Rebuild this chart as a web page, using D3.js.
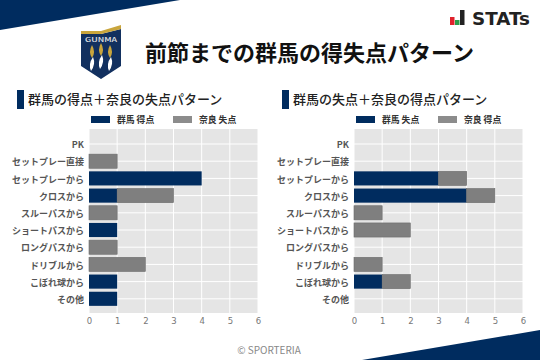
<!DOCTYPE html>
<html>
<head>
<meta charset="utf-8">
<style>
 html, body {margin: 0; padding: 0; background: #fff;}
 svg {display: block;}
 text {font-family: "Noto Sans CJK JP", "Noto Sans", sans-serif;}
</style>
<title>前節までの群馬の得失点パターン</title>
</head>
<body>
<div id="contenedor"></div>
<script src="https://d3js.org/d3.v7.min.js"></script>
<script>
var categorias = ["PK", "セットプレー直接", "セットプレーから", "クロスから", "スルーパスから", "ショートパスから", "ロングパスから", "ドリブルから", "こぼれ球から", "その他"];
var gunmaTokuten = [0, 0, 4, 1, 0, 1, 0, 0, 1, 1];
var naraShitten = [0, 1, 0, 2, 1, 0, 1, 2, 0, 0];
var gunmaShitten = [0, 0, 3, 4, 0, 0, 0, 0, 1, 0];
var naraTokuten = [0, 0, 1, 1, 1, 2, 0, 1, 1, 0];
var ticks = [0, 1, 2, 3, 4, 5, 6];

var azul = "#002c5f", gris = "#7f7f7f";
var svg = d3.select("#contenedor").append("svg").attr("width", 540).attr("height", 360);

// banners
svg.append("path").attr("d", "M0 0H180L0 30Z").attr("fill", azul);
svg.append("path").attr("d", "M540 330V360H362Z").attr("fill", azul);

// escudo
var escudo = svg.append("g");
escudo.append("path").attr("d", "M81 34H101L121 29V66L101 79L81 66Z").attr("fill", "#12305f");
escudo.append("path").attr("d", "M81 31H101L121 25V29L101 34H81Z").attr("fill", "#c9a53c");
escudo.append("text").attr("x", 85).attr("y", 41.500).attr("font-size", 5.500).attr("font-weight", 500).attr("fill", "#e8e8e8")
  .attr("textLength", 32).attr("lengthAdjust", "spacingAndGlyphs").text("GUNMA");
[[92, 45], [101, 43], [110, 45]].forEach(function (f) {
  escudo.append("path").attr("d", "M" + f[0] + " " + f[1] + "q4 7 0 13q-4 -6 0 -13Z").attr("fill", "#c9a53c");
  escudo.append("path").attr("d", "M" + (f[0] + 1) + " " + (f[1] + 12) + "q3 7 -2 14q-3 -7 2 -14Z").attr("fill", "#fff");
});

// logo STATs
var logo = svg.append("g");
logo.append("rect").attr("x", 450).attr("y", 17).attr("width", 4.500).attr("height", 8).attr("fill", "#e0222c");
logo.append("rect").attr("x", 455).attr("y", 20).attr("width", 4.500).attr("height", 5).attr("fill", "#2a9d4a");
logo.append("rect").attr("x", 460).attr("y", 10).attr("width", 4.500).attr("height", 15).attr("fill", "#222");
logo.append("text").attr("x", 472).attr("y", 24.500).attr("font-size", 18).attr("font-weight", 700).attr("fill", "#222")
  .attr("textLength", 58).attr("lengthAdjust", "spacingAndGlyphs").style("font-family", "'DejaVu Sans'").text("STATs");

svg.append("text").attr("x", 145).attr("y", 61).attr("font-size", 22).attr("font-weight", 700).attr("fill", "#111").text("前節までの群馬の得失点パターン");

function panel(x0, titulo, nombre1, nombre2, serie1, serie2) {
  var x = d3.scaleLinear().domain([0, 6]).range([x0, x0 + 169]);
  var y = d3.scaleBand().domain(categorias).range([135.400, 307.400]).paddingInner(0.18).paddingOuter(0.09);
  var g = svg.append("g");

  g.append("rect").attr("x", x0 - 72).attr("y", 90).attr("width", 7).attr("height", 19).attr("fill", azul);
  g.append("text").attr("x", x0 - 61).attr("y", 104).attr("font-size", 13).attr("font-weight", 500).attr("fill", "#222").text(titulo);

  g.append("rect").attr("x", x0 + 2).attr("y", 116).attr("width", 19).attr("height", 7).attr("fill", azul);
  g.append("text").attr("x", x0 + 28).attr("y", 123).attr("font-size", 8.800).attr("font-weight", 700).attr("fill", "#333").text(nombre1);
  g.append("rect").attr("x", x0 + 84).attr("y", 116).attr("width", 19).attr("height", 7).attr("fill", "#8c8c8c");
  g.append("text").attr("x", x0 + 110).attr("y", 123).attr("font-size", 8.800).attr("font-weight", 700).attr("fill", "#333").text(nombre2);

  g.append("rect").attr("x", x0).attr("y", 129).attr("width", 169).attr("height", 184).attr("fill", "#e5e5e5");
  g.selectAll(".gx").data(ticks).enter().append("line")
    .attr("x1", function (d) { return x(d); }).attr("x2", function (d) { return x(d); })
    .attr("y1", 129).attr("y2", 313).attr("stroke", "#fff").attr("stroke-width", 1);
  g.selectAll(".gy").data(categorias).enter().append("line")
    .attr("x1", x0).attr("x2", x0 + 169)
    .attr("y1", function (d) { return y(d) + y.bandwidth() / 2; }).attr("y2", function (d) { return y(d) + y.bandwidth() / 2; })
    .attr("stroke", "#fff").attr("stroke-width", 1);

  g.selectAll(".b1").data(categorias).enter().append("rect")
    .attr("x", x(0)).attr("y", function (d) { return y(d); })
    .attr("width", function (d, i) { return x(serie1[i]) - x(0); })
    .attr("height", y.bandwidth()).attr("fill", azul);
  g.selectAll(".b2").data(categorias).enter().append("rect")
    .attr("x", function (d, i) { return x(serie1[i]); }).attr("y", function (d) { return y(d); })
    .attr("width", function (d, i) { return x(serie1[i] + serie2[i]) - x(serie1[i]); })
    .attr("height", y.bandwidth()).attr("fill", gris)
    .attr("stroke", function (d, i) { return serie2[i] ? "#6c6c6c" : "none"; }).attr("stroke-width", 0.6);

  g.selectAll(".cat").data(categorias).enter().append("text")
    .attr("x", x0 - 5).attr("y", function (d) { return y(d) + y.bandwidth() / 2 + 4.200; })
    .attr("text-anchor", "end").attr("font-size", 9).attr("font-weight", 700).attr("fill", "#555")
    .text(function (d) { return d; });

  var eje = d3.axisBottom(x).tickValues(ticks).tickSize(0).tickPadding(5).tickFormat(d3.format("d"));
  var ax = g.append("g").attr("transform", "translate(0,313)").call(eje);
  ax.select(".domain").remove();
  ax.selectAll("text").attr("font-size", 8.500).attr("fill", "#777").style("font-family", "'DejaVu Sans'");
}

panel(89, "群馬の得点＋奈良の失点パターン", "群馬 得点", "奈良 失点", gunmaTokuten, naraShitten);
panel(354, "群馬の失点＋奈良の得点パターン", "群馬 失点", "奈良 得点", gunmaShitten, naraTokuten);

svg.append("text").attr("x", 269).attr("y", 354).attr("text-anchor", "middle").attr("font-size", 10).attr("fill", "#888").text("© SPORTERIA");
</script>
</body>
</html>
